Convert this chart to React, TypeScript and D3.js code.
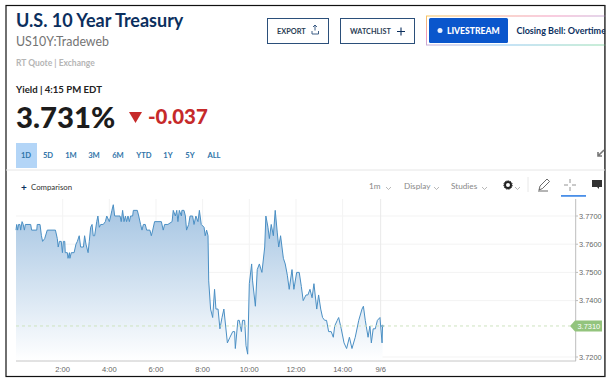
import React from "react";
import * as d3 from "d3";

const hours = [0,.03,.07,.11,.17,.20,.26,.31,.36,.40,.63,.67,.89,.91,1.03,1.09,1.14,1.23,1.34,1.69,1.77,1.81,1.86,1.94,1.99,2.03,2.09,2.11,2.20,2.23,2.29,2.31,2.37,2.49,2.57,2.63,2.71,2.77,2.89,2.94,3.00,3.09,3.14,3.20,3.26,3.31,3.37,3.46,3.51,3.57,3.63,3.69,3.74,3.83,3.89,4.00,4.06,4.11,4.17,4.23,4.46,4.51,4.57,4.63,4.69,4.74,4.80,4.86,4.91,5.00,5.03,5.20,5.26,5.34,5.40,5.46,5.54,5.60,5.74,5.80,5.86,5.94,6.23,6.31,6.37,6.43,6.51,6.69,6.74,6.83,6.89,6.94,7.00,7.09,7.11,7.20,7.26,7.31,7.40,7.46,7.57,7.63,7.71,7.80,7.86,7.94,8.06,8.11,8.17,8.23,8.26,8.34,8.43,8.51,8.57,8.66,8.74,8.83,8.91,9.06,9.17,9.29,9.37,9.40,9.51,9.57,9.66,9.71,9.80,9.86,9.93,10.0,10.10,10.14,10.26,10.34,10.43,10.54,10.66,10.71,10.80,10.86,10.94,11.03,11.11,11.20,11.26,11.34,11.46,11.54,11.63,11.71,11.83,11.91,12.03,12.14,12.23,12.31,12.43,12.51,12.60,12.69,12.77,12.89,12.97,13.06,13.14,13.23,13.31,13.40,13.51,13.60,13.66,13.77,13.83,13.94,14.06,14.17,14.29,14.40,14.54,14.69,14.83,14.89,14.97,15.09,15.17,15.23,15.31,15.40,15.49,15.60,15.69,15.71];
const yields = [3.765,3.767,3.765,3.767,3.767,3.765,3.768,3.767,3.765,3.767,3.767,3.765,3.765,3.767,3.767,3.763,3.761,3.762,3.765,3.765,3.762,3.759,3.761,3.761,3.757,3.761,3.761,3.757,3.757,3.755,3.757,3.755,3.757,3.757,3.760,3.761,3.763,3.759,3.759,3.763,3.760,3.757,3.761,3.766,3.767,3.763,3.763,3.768,3.770,3.766,3.767,3.767,3.767,3.768,3.770,3.768,3.770,3.772,3.774,3.770,3.770,3.768,3.772,3.768,3.770,3.768,3.770,3.768,3.770,3.770,3.772,3.772,3.770,3.767,3.765,3.767,3.767,3.765,3.765,3.763,3.765,3.768,3.768,3.765,3.767,3.767,3.767,3.768,3.772,3.770,3.772,3.768,3.772,3.770,3.772,3.772,3.770,3.765,3.767,3.770,3.770,3.767,3.770,3.768,3.772,3.767,3.766,3.763,3.765,3.763,3.747,3.737,3.734,3.744,3.737,3.737,3.730,3.734,3.737,3.725,3.727,3.729,3.729,3.723,3.733,3.733,3.729,3.733,3.733,3.724,3.721,3.746,3.753,3.747,3.738,3.751,3.753,3.750,3.759,3.770,3.766,3.762,3.767,3.763,3.772,3.764,3.759,3.763,3.755,3.753,3.749,3.744,3.751,3.744,3.750,3.750,3.745,3.740,3.742,3.742,3.744,3.741,3.746,3.737,3.742,3.737,3.734,3.733,3.733,3.729,3.729,3.727,3.731,3.733,3.734,3.730,3.725,3.723,3.727,3.723,3.727,3.733,3.737,3.738,3.733,3.727,3.731,3.725,3.730,3.730,3.733,3.734,3.725,3.731];
const xTickHours = [2,4,6,8,10,12,14,15.63];
const xTickLabels = ["2:00","4:00","6:00","8:00","10:00","12:00","14:00","9/6"];
const yTicks = [3.77,3.76,3.75,3.74,3.72];
const lastYield = 3.731;
const ranges = ["1D","5D","1M","3M","6M","YTD","1Y","5Y","ALL"];
const rangeX = [26,48,71,94,118,144,168,190,214];

const sans = "Lato, 'Open Sans', sans-serif";
const navy = "#0b2f5e";
const tabBlue = "#2f74a8";
const chev = (x: number, y: number) => <path d={`M${x} ${y}l2.5 2.5l2.5 -2.5`} fill="none" stroke="#999" strokeWidth={0.7} />;

export default function App() {
  const x = d3.scaleLinear().domain([0, 16]).range([16, 389.3]);
  const y = d3.scaleLinear().domain([3.72, 3.77]).range([357, 216]);
  const pts = hours.map((h, i) => [h, yields[i]] as [number, number]);
  const line = d3.line<[number, number]>().x(d => x(d[0])).y(d => y(d[1]))(pts)!;
  const area = d3.area<[number, number]>().x(d => x(d[0])).y0(361).y1(d => y(d[1]))(pts)!;
  return (
    <svg width={612} height={385} style={{ position: "absolute", left: 0, top: 0, background: "#fff", fontFamily: sans }}>
      <defs>
        <linearGradient id="fill" x1="0" y1="0" x2="0" y2="1" gradientUnits="objectBoundingBox">
          <stop offset="0" stopColor="#a4c4e2" />
          <stop offset="1" stopColor="#ffffff" />
        </linearGradient>
        <linearGradient id="rb" x1="0" y1="0" x2="1" y2="1">
          <stop offset="0" stopColor="#f6c35f" />
          <stop offset="0.35" stopColor="#f39ac0" />
          <stop offset="0.7" stopColor="#8cc5f2" />
          <stop offset="1" stopColor="#93dcae" />
        </linearGradient>
      </defs>
      <rect x={6} y={5.5} width={599} height={371} fill="none" stroke="#111" strokeWidth={1.2} />

      <text x={16} y={27} fontSize={18} fontWeight={700} fill={navy}>U.S. 10 Year Treasury</text>
      <text x={16} y={46} fontSize={12.4} fill="#747474">US10Y:Tradeweb</text>
      <text x={16} y={66} fontSize={8.5} fontWeight={700} fill="#b5b5b5">RT Quote | Exchange</text>
      <text x={16} y={93} fontSize={9.6} fontWeight={700} fill="#222">Yield | 4:15 PM EDT</text>
      <text x={16} y={128} fontSize={29.3} fontWeight={900} fill="#1c1c1c">3.731%</text>
      <path d="M129 112h13l-6.5 11z" fill="#c62a2a" />
      <text x={148} y={124} fontSize={20.4} fontWeight={900} fill="#c62a2a">-0.037</text>

      <rect x={267.5} y={18.5} width={61} height={25} fill="#fff" stroke="#2b4f7a" />
      <text x={277} y={34} fontSize={7.4} fontWeight={700} fill="#2c3e55">EXPORT</text>
      <path d="M315 30.500v-5.500m-2 2l2-2l2 2M312 31v3h6.500v-3" fill="none" stroke="#2b4f7a" strokeWidth={0.9} />
      <rect x={340.5} y={18.5} width={74} height={25} fill="#fff" stroke="#2b4f7a" />
      <text x={350} y={34} fontSize={7.3} fontWeight={700} fill="#2c3e55">WATCHLIST</text>
      <path d="M397 31.500h8M401 27.500v8" stroke={navy} strokeWidth={1.1} />
      <rect x={426.5} y={16} width={180} height={29} fill="none" stroke="url(#rb)" strokeWidth={1} />
      <rect x={429} y={18} width={79} height={25} rx={1.5} fill="#0a56cc" />
      <circle cx={440} cy={30.500} r={2.500} fill="#e8f0ff" />
      <text x={447} y={33.500} fontSize={8.6} fontWeight={900} fill="#fff">LIVESTREAM</text>
      <text x={516.500} y={34} fontSize={9} fontWeight={700} fill={navy}>Closing Bell: Overtime</text>
      <rect x={605.500} y={4} width={7} height={373} fill="#fff" />
      <line x1={605} x2={605} y1={5} y2={377} stroke="#333" strokeWidth={1} />

      <rect x={16} y={143} width={21} height={25} fill="#b3d5f7" />
      {ranges.map((r, i) => (
        <text key={r} x={rangeX[i]} y={158} fontSize={7.6} textAnchor="middle" fontWeight={700} fill={tabBlue}>{r}</text>
      ))}
      <path d="M604 150l-6 6M598 152v4h4" fill="none" stroke="#777" strokeWidth={1.6} />

      <line x1={6} x2={605} y1={170} y2={170} stroke="#e6e6e6" />
      <text x={21} y={191} fontSize={10} fontWeight={700} fill={navy}>+</text>
      <text x={31} y={190} fontSize={7.8} fill="#333">Comparison</text>
      <text x={369} y={189} fontSize={8.2} fill="#888">1m</text>{chev(386, 187)}
      <text x={404} y={189} fontSize={8.2} fill="#888">Display</text>{chev(434, 187)}
      <text x={451} y={189} fontSize={8.2} fill="#888">Studies</text>{chev(482, 187)}
      <circle cx={508} cy={185} r={3} fill="none" stroke="#222" strokeWidth={2} />
      <circle cx={508} cy={185} r={4.300} fill="none" stroke="#222" strokeWidth={0.9} strokeDasharray="1.400 1" />
      {chev(515, 187)}
      <line x1={528} x2={528} y1={177} y2={192} stroke="#e8e8e8" />
      <path d="M539 190l1-4l7-7l2.500 2.500l-7 7z M538 191h10" fill="none" stroke="#444" strokeWidth={0.8} />
      <path d="M570 179v4M570 187v4M564 185h4M572 185h4" stroke="#888" strokeWidth={0.9} />
      <rect x={561} y={195} width={25} height={1.800} fill="#4a8fe8" />
      <path d="M592 180h10v7h-3v2l-2-2h-5z" fill="#333" />

      {yTicks.map(t => <line key={t} x1={16} x2={576} y1={y(t)} y2={y(t)} stroke="#f3f3f3" />)}
      {xTickHours.map(h => <line key={h} x1={x(h)} x2={x(h)} y1={199} y2={361} stroke={h === 15.63 ? "#e9e9e9" : "#f3f3f3"} />)}

      <path d={area} fill="url(#fill)" />
      <path d={line} fill="none" stroke="#4a8fc4" strokeWidth={1} />
      <circle cx={x(15.71)} cy={y(lastYield)} r={1.200} fill="#3b86c4" />

      <line x1={16} x2={570} y1={y(lastYield)} y2={y(lastYield)} stroke="#cfe3bf" strokeDasharray="3 3" />
      <line x1={16} x2={576} y1={361} y2={361} stroke="#c6c6c6" />
      <line x1={575.700} x2={575.700} y1={199} y2={361} stroke="#bdbdbd" />

      {xTickHours.map((h, i) => (
        <text key={h} x={x(h)} y={372} fontSize={7.6} textAnchor="middle" fill="#666" fontFamily="'Liberation Sans', Arial, sans-serif">{xTickLabels[i]}</text>
      ))}
      {yTicks.map(t => (
        <g key={t}>
          <line x1={575.700} x2={578} y1={y(t)} y2={y(t)} stroke="#bdbdbd" />
          <text x={579} y={y(t) + 2.800} fontSize={7.4} fill="#666" fontFamily="'Liberation Sans', Arial, sans-serif">{d3.format(".4f")(t)}</text>
        </g>
      ))}
      <path d={`M570 ${y(lastYield)}l5 -5.500h27v11h-27z`} fill="#93c47d" />
      <text x={577.500} y={y(lastYield) + 2.800} fontSize={7.4} fill="#fff" fontFamily="'Liberation Sans', Arial, sans-serif">{d3.format(".4f")(lastYield)}</text>
    </svg>
  );
}
